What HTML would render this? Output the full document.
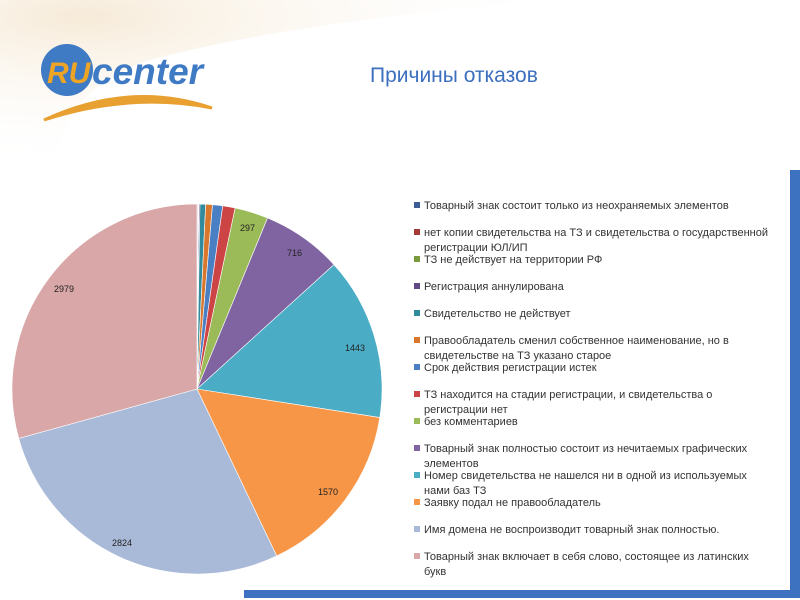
<!DOCTYPE html>
<html><head><meta charset="utf-8"><style>
html,body{margin:0;padding:0;background:#fff;}
svg{display:block;}
</style></head><body>
<svg width="800" height="600" xmlns="http://www.w3.org/2000/svg" font-family="Liberation Sans, DejaVu Sans, sans-serif">
<defs>
<radialGradient id="bg" cx="0.15" cy="0.1" r="0.9">
<stop offset="0" stop-color="#f3e2c8" stop-opacity="0.7"/>
<stop offset="1" stop-color="#fff" stop-opacity="0"/>
</radialGradient>
</defs>
<rect width="800" height="600" fill="#fff"/>
<path d="M0 0 H560 Q300 20 150 60 Q60 90 55 170 H0 Z" fill="url(#bg)"/>
<!-- logo -->
<path d="M44 120 Q130 80 212 108 Q130 92 44 120 Z" fill="#e8a030" stroke="#e8a030" stroke-width="3"/>
<circle cx="67" cy="70" r="26" fill="#3f7ac4"/>
<text x="47" y="83" font-size="30" font-weight="bold" font-style="italic" fill="#eea425">RU</text>
<text x="92" y="84" font-size="37" font-weight="bold" font-style="italic" fill="#3f7ac4">center</text>
<text x="370" y="82" font-size="21" fill="#3d6fbf">Причины отказов</text>
<!-- frame -->
<rect x="790" y="170" width="10" height="428" fill="#3d72c0"/>
<rect x="244" y="590" width="556" height="8" fill="#3d72c0"/>
<!-- pie -->
<g stroke="#fff" stroke-width="0.6">
<path d="M197 389 L197 204 A185 185 0 0 1 197.91 204 Z" fill="#3b5c95"/>
<path d="M197 389 L197.91 204 A185 185 0 0 1 198.37 204.01 Z" fill="#a33a38"/>
<path d="M197 389 L198.37 204.01 A185 185 0 0 1 198.83 204.01 Z" fill="#7a9a3e"/>
<path d="M197 389 L198.83 204.01 A185 185 0 0 1 199.97 204.02 Z" fill="#5f4a87"/>
<path d="M197 389 L199.97 204.02 A185 185 0 0 1 205.69 204.2 Z" fill="#318b9c"/>
<path d="M197 389 L205.69 204.2 A185 185 0 0 1 212.53 204.65 Z" fill="#d9782d"/>
<path d="M197 389 L212.53 204.65 A185 185 0 0 1 222.76 205.8 Z" fill="#4a7fc4"/>
<path d="M197 389 L222.76 205.8 A185 185 0 0 1 235.15 207.98 Z" fill="#cc4444"/>
<path d="M197 389 L235.15 207.98 A185 185 0 0 1 267.55 217.98 Z" fill="#9bbb59"/>
<path d="M197 389 L267.55 217.98 A185 185 0 0 1 333.98 264.65 Z" fill="#8064a2"/>
<path d="M197 389 L333.98 264.65 A185 185 0 0 1 379.78 417.56 Z" fill="#4bacc6"/>
<path d="M197 389 L379.78 417.56 A185 185 0 0 1 276.70 555.95 Z" fill="#f79646"/>
<path d="M197 389 L276.70 555.95 A185 185 0 0 1 18.73 438.44 Z" fill="#a9b9d8"/>
<path d="M197 389 L18.73 438.44 A185 185 0 0 1 197 204 Z" fill="#d9a7a7"/>
</g>
<g font-size="9" fill="#222">
<text x="240" y="231">297</text>
<text x="287" y="256">716</text>
<text x="345" y="351">1443</text>
<text x="318" y="495">1570</text>
<text x="112" y="546">2824</text>
<text x="54" y="292">2979</text>
</g>
<g font-size="11" fill="#333">
<rect x="414" y="202" width="6" height="6" fill="#3b5c95"/><text x="424" y="209">Товарный знак состоит только из неохраняемых элементов</text>
<rect x="414" y="229" width="6" height="6" fill="#a33a38"/><text x="424" y="236">нет копии свидетельства на ТЗ и свидетельства о государственной</text><text x="424" y="251">регистрации ЮЛ/ИП</text>
<rect x="414" y="256" width="6" height="6" fill="#7a9a3e"/><text x="424" y="263">ТЗ не действует на территории РФ</text>
<rect x="414" y="283" width="6" height="6" fill="#5f4a87"/><text x="424" y="290">Регистрация аннулирована</text>
<rect x="414" y="310" width="6" height="6" fill="#318b9c"/><text x="424" y="317">Свидетельство не действует</text>
<rect x="414" y="337" width="6" height="6" fill="#d9782d"/><text x="424" y="344">Правообладатель сменил собственное наименование, но в</text><text x="424" y="359">свидетельстве на ТЗ указано старое</text>
<rect x="414" y="364" width="6" height="6" fill="#4a7fc4"/><text x="424" y="371">Срок действия регистрации истек</text>
<rect x="414" y="391" width="6" height="6" fill="#cc4444"/><text x="424" y="398">ТЗ находится на стадии регистрации, и свидетельства о</text><text x="424" y="413">регистрации нет</text>
<rect x="414" y="418" width="6" height="6" fill="#9bbb59"/><text x="424" y="425">без комментариев</text>
<rect x="414" y="445" width="6" height="6" fill="#8064a2"/><text x="424" y="452">Товарный знак полностью состоит из нечитаемых графических</text><text x="424" y="467">элементов</text>
<rect x="414" y="472" width="6" height="6" fill="#4bacc6"/><text x="424" y="479">Номер свидетельства не нашелся ни в одной из используемых</text><text x="424" y="494">нами баз ТЗ</text>
<rect x="414" y="499" width="6" height="6" fill="#f79646"/><text x="424" y="506">Заявку подал не правообладатель</text>
<rect x="414" y="526" width="6" height="6" fill="#a9b9d8"/><text x="424" y="533">Имя домена не воспроизводит товарный знак полностью.</text>
<rect x="414" y="553" width="6" height="6" fill="#d9a7a7"/><text x="424" y="560">Товарный знак включает в себя слово, состоящее из латинских</text><text x="424" y="575">букв</text>
</g>
</svg>
</body></html>
